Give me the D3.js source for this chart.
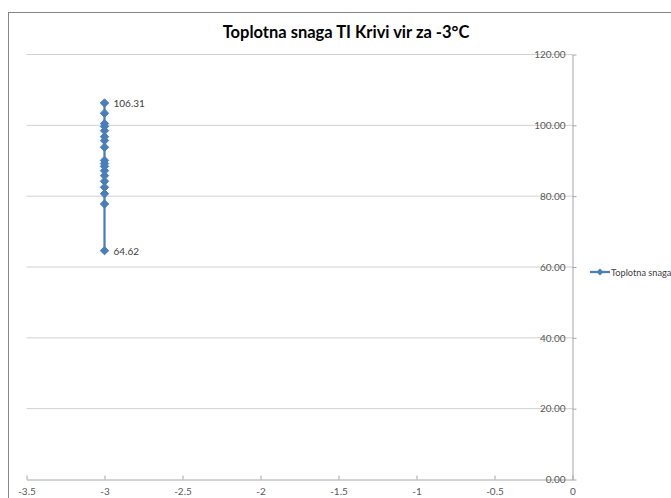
<!DOCTYPE html>
<html><head><meta charset="utf-8">
<script src="https://cdn.jsdelivr.net/npm/d3@7/dist/d3.min.js"></script>
<style>body{margin:0;background:#fff;overflow:hidden}svg{display:block}</style>
</head><body>
<svg id="c" width="671" height="498"></svg>
<script>
const title = "Toplotna snaga TI Krivi vir za -3°C";
const seriesName = "Toplotna snaga";
const xValues = [-3,-3,-3,-3,-3,-3,-3,-3,-3,-3,-3,-3,-3,-3,-3,-3,-3,-3];
const yValues = [64.62,77.8,80.7,82.5,84.2,85.8,87.2,88.4,89.2,90.1,93.8,95.7,96.8,98.5,99.7,100.5,103.4,106.31];
const labeledValues = [106.31, 64.62];
const xTicks = [-3.5,-3,-2.5,-2,-1.5,-1,-0.5,0];
const yTicks = [0,20,40,60,80,100,120];

const svg = d3.select("#c");
const font = "Lato, 'Open Sans', sans-serif";

// chart frame
svg.append("rect").attr("x",8.5).attr("y",12.5).attr("width",700).attr("height",520)
  .attr("fill","none").attr("stroke","#868686").attr("stroke-width",1);

const x = d3.scaleLinear().domain([-3.5,0]).range([26.5,572.5]);
const y = d3.scaleLinear().domain([0,120]).range([479.5,54.5]);

// gridlines
svg.append("g").selectAll("line").data(yTicks.filter(d=>d>0)).join("line")
  .attr("x1",x(-3.5)).attr("x2",x(0)).attr("y1",d=>y(d)).attr("y2",d=>y(d))
  .attr("stroke","#d0d0d0").attr("stroke-width",1);

// x axis
const xAxis = d3.axisBottom(x).tickValues(xTicks).tickFormat(d=>String(d)).tickSizeInner(-4).tickSizeOuter(0).tickPadding(8);
const gx = svg.append("g").attr("transform",`translate(0,${y(0)})`).call(xAxis);
gx.select(".domain").attr("stroke","#a6a6a6");
gx.selectAll(".tick line").attr("stroke","#a6a6a6");
gx.selectAll("text").attr("font-family",font).attr("font-size",10).attr("fill","#595959");

// y axis on right, labels inside left of the axis
const yAxis = d3.axisLeft(y).tickValues(yTicks).tickFormat(d3.format(".2f")).tickSizeInner(0).tickSizeOuter(0).tickPadding(7);
const gy = svg.append("g").attr("transform",`translate(${x(0)},0)`).call(yAxis);
gy.select(".domain").attr("stroke","#a6a6a6");
gy.selectAll("text").attr("font-family",font).attr("font-size",10).attr("fill","#595959");
gy.selectAll(".tick").append("line").attr("x1",0).attr("x2",4).attr("stroke","#a6a6a6");

// series line
const pts = xValues.map((v,i)=>({x:v,y:yValues[i]}));
const color = "#4a7ebb";
svg.append("path").datum(pts)
  .attr("d", d3.line().x(d=>x(d.x)).y(d=>y(d.y)))
  .attr("fill","none").attr("stroke",color).attr("stroke-width",2.25);

const diamond = d3.symbol().type(d3.symbolDiamond2).size(45);
svg.append("g").selectAll("path").data(pts).join("path")
  .attr("d",diamond).attr("transform",d=>`translate(${x(d.x)},${y(d.y)})`)
  .attr("fill",color).attr("stroke",color).attr("stroke-width",1);

// data labels
svg.append("g").selectAll("text").data(pts.filter(d=>labeledValues.includes(d.y))).join("text")
  .attr("x",d=>x(d.x)+9).attr("y",d=>y(d.y)+4)
  .attr("font-family",font).attr("font-size",10).attr("fill","#404040")
  .text(d=>d.y.toFixed(2));

// title
svg.append("text").attr("x",346).attr("y",38).attr("text-anchor","middle")
  .attr("font-family",font).attr("font-weight","bold").attr("font-size",16.5).attr("fill","#000")
  .text(title);

// legend
const lg = svg.append("g").attr("transform","translate(590,272)");
lg.append("line").attr("x1",0).attr("x2",20).attr("stroke",color).attr("stroke-width",2.25);
lg.append("path").attr("d",d3.symbol().type(d3.symbolDiamond2).size(30)).attr("transform","translate(10,0)").attr("fill",color);
lg.append("text").attr("x",21).attr("y",3.5).attr("font-family",font).attr("font-size",9.2)
  .attr("fill","#404040").text(seriesName);
</script>
</body></html>
